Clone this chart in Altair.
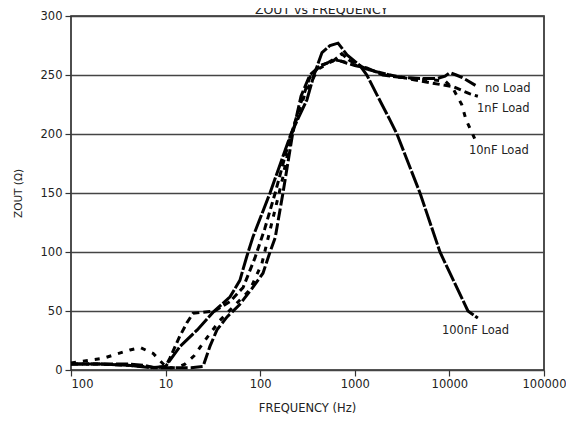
import altair as alt
import pandas as pd

# ---- data ----
series_names = ["no Load", "1nF Load", "10nF Load", "100nF Load"]

noload_f = [1, 2, 4, 6, 7.5, 10, 14, 18.6, 24.9, 29.4, 34.9, 44.6, 60, 80, 107, 127, 144, 174, 220, 270, 335, 420, 507, 590, 700, 828, 1000, 1340, 1980, 3000, 4890, 7400, 9000, 10100, 11800, 13500, 15000, 20000]
noload_z = [5, 5, 5, 4, 2, 2, 2, 2, 3, 20, 34, 45, 55, 68, 82, 100, 112, 150, 200, 232, 250, 257, 260, 263, 262, 260, 258, 256, 250, 248, 247, 247, 249, 252, 250, 248, 246, 240]

nf1_f = [1, 2, 4, 6, 8, 10, 11.1, 14, 16.8, 19.5, 25, 33, 48, 66, 88, 112, 144, 196, 265, 335, 430, 590, 730, 890, 1340, 2350, 4890, 7950, 11000, 16500, 20000]
nf1_z = [5, 5, 4, 3, 2, 3, 10, 28, 40, 48, 49, 50, 58, 70, 95, 120, 150, 190, 225, 248, 258, 262, 268, 262, 255, 250, 245, 242, 240, 234, 232]

nf10_f = [1, 1.5, 2.2, 2.9, 4.2, 5.4, 7.4, 8.7, 10.3, 13, 16, 20, 26, 37.5, 54, 78, 104, 133, 170, 215, 300, 410, 620, 890, 1450, 3000, 6250, 9000, 11000, 13500, 15000, 17800, 18500]
nf10_z = [6, 8, 10, 13, 17, 19, 14, 8, 2, 2, 5, 12, 25, 42, 55, 68, 90, 125, 160, 200, 235, 255, 263, 260, 254, 248, 246, 245, 238, 225, 212, 199, 196]

nf100_f = [1, 2, 4, 7, 10, 14.2, 21.6, 31.8, 48, 61, 72, 84, 127, 211, 312, 370, 450, 547, 665, 828, 1135, 1340, 1720, 2350, 2790, 4890, 7950, 15700, 20000]
nf100_z = [5, 5, 4, 2, 3, 20, 34, 49, 62, 76, 96, 113, 150, 200, 229, 250, 269, 275, 277, 267, 258, 250, 233, 212, 200, 150, 100, 50, 44]

label_text = ["no Load", "1nF Load", "10nF Load", "100nF Load"]
label_f = [23800, 19600, 16100, 8350]
label_z = [238, 221, 186, 33]

x_tick_values = [1, 10, 100, 1000, 10000, 100000]
x_tick_labels = ["100", "10", "100", "1000", "10000", "100000"]
y_tick_values = [0, 50, 100, 150, 200, 250, 300]

# ---- tables ----
rows = []
for name, fs, zs in zip(series_names,
                        [noload_f, nf1_f, nf10_f, nf100_f],
                        [noload_z, nf1_z, nf10_z, nf100_z]):
    for i, (f, z) in enumerate(zip(fs, zs)):
        rows.append({"series": name, "f": f, "z": z, "i": i})
df = pd.DataFrame(rows)
labels = pd.DataFrame({"text": label_text, "f": label_f, "z": label_z})

FONT = "DejaVu Sans"
TXT = "#222222"

label_array = "[" + ",".join("'%s'" % s for s in x_tick_labels) + "]"

xscale = alt.Scale(type="log", domain=[1, 100000], nice=False)
yscale = alt.Scale(domain=[0, 300], nice=False)

xaxis = alt.Axis(
    values=x_tick_values,
    labelExpr=label_array + "[round(log(datum.value)/LN10)]",
    title="FREQUENCY (Hz)",
    grid=False, domain=False,
    tickSize=6, tickColor="#333333", tickWidth=1.2,
    labelFont=FONT, labelFontSize=11.5, labelColor=TXT, labelPadding=2,
    labelFlush=False,
    labelAlign=alt.condition("datum.value < 5", alt.value("left"), alt.value("center")),
    titleFont=FONT, titleFontSize=11.5, titleFontWeight="normal", titleColor=TXT,
    titleX=236, titleY=38, titleAlign="center", titleBaseline="middle",
)
yaxis = alt.Axis(
    values=y_tick_values,
    title="ZOUT (\u03a9)",
    grid=True, gridColor="#444444", gridWidth=1.3,
    domain=False,
    tickSize=6, tickColor="#333333", tickWidth=1.2,
    labelFont=FONT, labelFontSize=11.5, labelColor=TXT, labelPadding=3,
    labelFlush=False,
    titleFont=FONT, titleFontSize=10.5, titleFontWeight="normal", titleColor=TXT,
    titleAngle=-90, titleX=-53, titleY=177, titleAlign="center", titleBaseline="middle",
)

lines = alt.Chart(df).mark_line(color="black", strokeWidth=3, strokeCap="butt").encode(
    x=alt.X("f:Q", scale=xscale, axis=xaxis),
    y=alt.Y("z:Q", scale=yscale, axis=yaxis),
    detail="series:N",
    order="i:Q",
    strokeDash=alt.StrokeDash(
        "series:N",
        scale=alt.Scale(domain=series_names,
                        range=[[12, 3], [7, 4], [5, 7], [18, 2]]),
        legend=None,
    ),
)

texts = alt.Chart(labels).mark_text(
    align="left", baseline="middle", font=FONT, fontSize=11.5, color=TXT
).encode(
    x=alt.X("f:Q", scale=xscale),
    y=alt.Y("z:Q", scale=yscale),
    text="text:N",
)

chart = alt.layer(lines, texts).properties(
    width=473,
    height=354,
    padding={"left": 63, "top": 8, "right": 22, "bottom": 45},
    autosize=alt.AutoSizeParams(type="none"),
    title=alt.TitleParams(
        text="ZOUT vs FREQUENCY", font=FONT, fontSize=12.5, fontWeight="normal",
        color=TXT, anchor="middle", baseline="bottom", offset=0, dy=19, dx=14,
    ),
).configure_view(stroke="#222222", strokeWidth=1.6)

chart.save("out.html", embed_options={"renderer": "svg", "actions": False})
